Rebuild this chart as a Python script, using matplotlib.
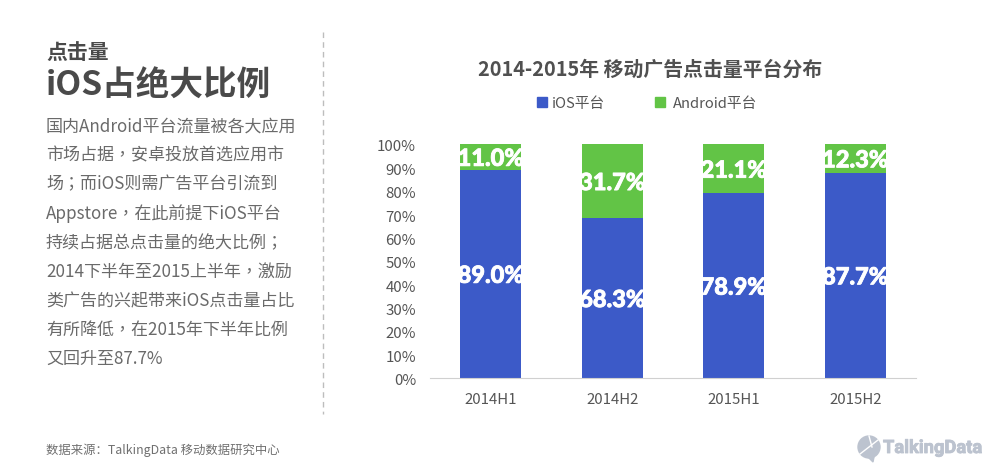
import matplotlib
matplotlib.use('Agg')
import matplotlib.pyplot as plt
import matplotlib.patheffects as pe
import matplotlib.transforms as mtrans
from matplotlib.patches import Circle, Polygon
from matplotlib.lines import Line2D
from matplotlib.ticker import PercentFormatter

plt.rcParams['font.family'] = ['Noto Sans CJK SC', 'DejaVu Sans']

categories = ['2014H1', '2014H2', '2015H1', '2015H2']
ios = [89.0, 68.3, 78.9, 87.7]
android = [11.0, 31.7, 21.1, 12.3]
series_names = ['iOS平台', 'Android平台']
ios_color = '#3C5AC8'
android_color = '#62C446'
body_lines = ['国内Android平台流量被各大应用', '市场占据，安卓投放首选应用市',
              '场；而iOS则需广告平台引流到', 'Appstore，在此前提下iOS平台',
              '持续占据总点击量的绝大比例；', '2014下半年至2015上半年，激励',
              '类广告的兴起带来iOS点击量占比', '有所降低，在2015年下半年比例',
              '又回升至87.7%']

W, H = 1000, 477
fig = plt.figure(figsize=(10, 4.77), dpi=100, facecolor='white')

def px(x, y):
    return x / W, 1 - y / H

ax = fig.add_axes([430 / W, 1 - 378.8 / H, 486 / W, 234.0 / H])
x = range(len(categories))
ax.bar(x, ios, width=0.5, color=ios_color)
ax.bar(x, android, width=0.5, bottom=ios, color=android_color)
ax.set_xlim(-0.5, 3.5)
ax.set_ylim(0, 100)
ax.set_xticks(list(x), categories, fontsize=10.8, color='#555555')
ax.set_yticks(range(0, 101, 10))
ax.yaxis.set_major_formatter(PercentFormatter(decimals=0))
ax.tick_params(axis='y', length=0, labelsize=10.8, labelcolor='#555555', pad=10)
ax.tick_params(axis='x', length=0, pad=10)
for s in ['top', 'left', 'right']:
    ax.spines[s].set_visible(False)
ax.spines['bottom'].set_color('#D0D0D0')
shift = mtrans.ScaledTranslation(0, -1 / 100, fig.dpi_scale_trans)
for lbl in ax.get_yticklabels():
    lbl.set_transform(lbl.get_transform() + shift)

stroke = [pe.withStroke(linewidth=0.6, foreground='white')]
for i in x:
    for yv, val in [(ios[i] / 2, ios[i]), (ios[i] + android[i] / 2, android[i])]:
        ax.annotate(f'{val:.1f}%', (i, yv), xytext=(0, -1.2), textcoords='offset points',
                    ha='center', va='center', color='white', fontsize=17, fontweight='black',
                    family=['Lato', 'DejaVu Sans'], path_effects=stroke)

# chart title and legend
fig.text(*px(650, 69.5), '2014-2015年 移动广告点击量平台分布', ha='center', va='center',
         fontsize=14.3, fontweight='bold', color='#505050')
for xp, xt, c, name in [(542, 552, ios_color, series_names[0]), (660, 673, android_color, series_names[1])]:
    fig.patches.append(plt.Rectangle(px(xp - 5, 108), 10 / W, 10 / H, transform=fig.transFigure, color=c))
    fig.text(*px(xt, 104), name, ha='left', va='center', fontsize=10.6, color='#555555')

# left panel
fig.text(*px(46, 52), '点击量', ha='left', va='center', fontsize=15, fontweight='bold', color='#4A4A4A')
fig.text(*px(46, 86), 'iOS占绝大比例', ha='left', va='center', fontsize=24.2, fontweight='bold', color='#4A4A4A')
for i, line in enumerate(body_lines):
    fig.text(*px(46, 126.5 + i * 29.1), line, ha='left', va='center', fontsize=12.25, color='#6A6A6A',
             family=['Noto Sans CJK TC', 'DejaVu Sans'])

fig.add_artist(Line2D([323 / W, 323 / W], [1 - 33 / H, 1 - 415 / H], color='#BDBDBD', lw=1, ls=(0, (4, 3))))
fig.text(*px(46, 450), '数据来源：TalkingData 移动数据研究中心', ha='left', va='center', fontsize=8.9, color='#707070')

# logo
logo = '#BCC3CF'
fig.text(*px(883, 449), 'TalkingData', ha='left', va='center', fontsize=13.2, fontweight='bold',
         color=logo, family=['Roboto', 'DejaVu Sans'],
         path_effects=[pe.withStroke(linewidth=0.6, foreground=logo)])
lax = fig.add_axes([0, 0, 1, 1], facecolor='none')
lax.set_xlim(0, W)
lax.set_ylim(H, 0)
lax.axis('off')
lax.add_patch(Circle((869, 448), 11, color=logo))
lax.add_patch(Polygon([(866, 456), (874, 458), (873, 463)], color=logo))
lax.plot([860, 878], [455, 441], color='white', lw=1)
lax.plot([869, 872], [437, 448], color='white', lw=1)

fig.savefig('out.png', dpi=100)
